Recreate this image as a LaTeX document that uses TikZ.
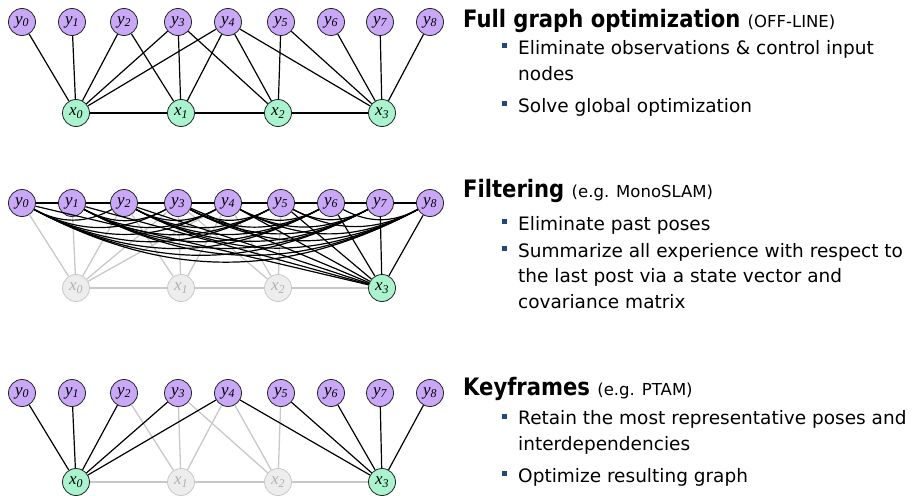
\documentclass[tikz,border=0pt]{standalone}
\usepackage{fontspec}
\setmainfont{DejaVu Sans}
\newfontfamily\headfont{DejaVu Sans}[FakeStretch=0.88]
\newfontfamily\nodefont{Liberation Serif}
\usetikzlibrary{positioning}
\definecolor{slamPurple}{HTML}{C9A8F7}
\definecolor{slamGreen}{HTML}{A9F4CF}
\definecolor{slamFade}{HTML}{EDEDED}
\definecolor{slamFadeLine}{HTML}{C8C8C8}
\definecolor{slamFadeText}{HTML}{B0B0B0}
\definecolor{slamBullet}{HTML}{1F497D}
\definecolor{slamLine}{HTML}{222222}
\newcommand{\aside}[1]{{\normalfont\fontsize{16.5}{20}\selectfont#1}}

\begin{document}
\begin{tikzpicture}[
  x=1pt,y=-1pt,
  landmark/.style={circle,draw=slamLine,line width=.8pt,minimum size=27pt,inner sep=0pt,
    fill=slamPurple,font=\nodefont\itshape\fontsize{17}{17}\selectfont},
  posenode/.style={landmark,fill=slamGreen},
  oldpose/.style={landmark,fill=slamFade,draw=slamFadeLine,text=slamFadeText},
  link/.style={draw=black,line width=1.2pt},
  faded/.style={draw=slamFadeLine,line width=1.3pt},
  head/.style={anchor=base west,inner sep=0pt,font=\headfont\bfseries\fontsize{24}{28}\selectfont},
  item/.style={anchor=base west,inner sep=0pt,align=left,font=\fontsize{18.5}{25.5}\selectfont},
  bul/.style={fill=slamBullet,minimum size=5pt,inner sep=0pt}
]
  \useasboundingbox (0,0) rectangle (912,495);
  \foreach \px [count=\i from 0] in {22,72,124,178,228,281,331,380,430}{
    \node[landmark] (full-y\i) at (\px,22) {y\textsubscript{\i}};
    \node[landmark] (filt-y\i) at (\px,203) {y\textsubscript{\i}};
    \node[landmark] (kf-y\i) at (\px,393) {y\textsubscript{\i}};
  }
  \foreach \px [count=\i from 0] in {76,181,278,382}
    \node[posenode] (full-x\i) at (\px,113) {x\textsubscript{\i}};
  \foreach \px [count=\i from 0] in {76,181,278}
    \node[oldpose] (filt-x\i) at (\px,288) {x\textsubscript{\i}};
  \node[posenode] (filt-x3) at (382,288) {x\textsubscript{3}};
  \node[posenode] (kf-x0) at (76,482) {x\textsubscript{0}};
  \node[oldpose] (kf-x1) at (181,482) {x\textsubscript{1}};
  \node[oldpose] (kf-x2) at (278,482) {x\textsubscript{2}};
  \node[posenode] (kf-x3) at (382,482) {x\textsubscript{3}};

  \draw[link] (full-x0) -- (full-x1) -- (full-x2) -- (full-x3);
  \foreach \a/\b in {0/0,1/0,2/0,2/1,3/0,3/1,3/2,4/0,4/1,4/2,4/3,5/2,5/3,6/3,7/3,8/3}
    \draw[link] (full-y\a) -- (full-x\b);

  \draw[faded] (filt-x0) -- (filt-x1) -- (filt-x2) -- (filt-x3);
  \foreach \a/\b in {0/0,1/0,2/0,2/1,3/0,3/1,3/2,4/0,4/1,4/2,5/2}
    \draw[faded] (filt-y\a) -- (filt-x\b);
  \foreach \a in {0,...,8}
    \draw[link] (filt-y\a) -- (filt-x3);
  \foreach \a in {0,...,7}{
    \pgfmathtruncatemacro\nexta{\a+1}
    \draw[link] (filt-y\a) -- (filt-y\nexta);
    \ifnum\nexta<8
      \pgfmathtruncatemacro\skipa{\a+2}
      \foreach \b in {\skipa,...,8}
        \draw[link] (filt-y\a) to[bend right=28] (filt-y\b);
    \fi
  }

  \draw[faded] (kf-x0) -- (kf-x1) -- (kf-x2) -- (kf-x3);
  \foreach \a/\b in {2/1,3/1,3/2,4/1,4/2,5/2}
    \draw[faded] (kf-y\a) -- (kf-x\b);
  \foreach \a/\b in {0/0,1/0,2/0,3/0,4/0,4/3,5/3,6/3,7/3,8/3}
    \draw[link] (kf-y\a) -- (kf-x\b);

  \node[head] (full-head) at (463,28) {Full graph optimization \aside{(OFF-LINE)}};
  \node[item] (full-t1) at (518,80) {Eliminate observations \& control input\\nodes};
  \node[item] (full-t2) at (518,112) {Solve global optimization};
  \node[bul] (full-b1) at (504.5,46) {};
  \node[bul] (full-b2) at (504.5,103) {};

  \node[head] (filt-head) at (463,197) {Filtering \aside{(e.g. MonoSLAM)}};
  \node[item] (filt-t1) at (518,230) {Eliminate past poses};
  \node[item] (filt-t2) at (518,308) {Summarize all experience with respect to\\the last post via a state vector and\\covariance matrix};
  \node[bul] (filt-b1) at (504.5,221) {};
  \node[bul] (filt-b2) at (504.5,248) {};

  \node[head] (kf-head) at (463,395) {Keyframes \aside{(e.g. PTAM)}};
  \node[item] (kf-t1) at (518,450) {Retain the most representative poses and\\interdependencies};
  \node[item] (kf-t2) at (518,482) {Optimize resulting graph};
  \node[bul] (kf-b1) at (504.5,416) {};
  \node[bul] (kf-b2) at (504.5,473) {};
\end{tikzpicture}
\end{document}
